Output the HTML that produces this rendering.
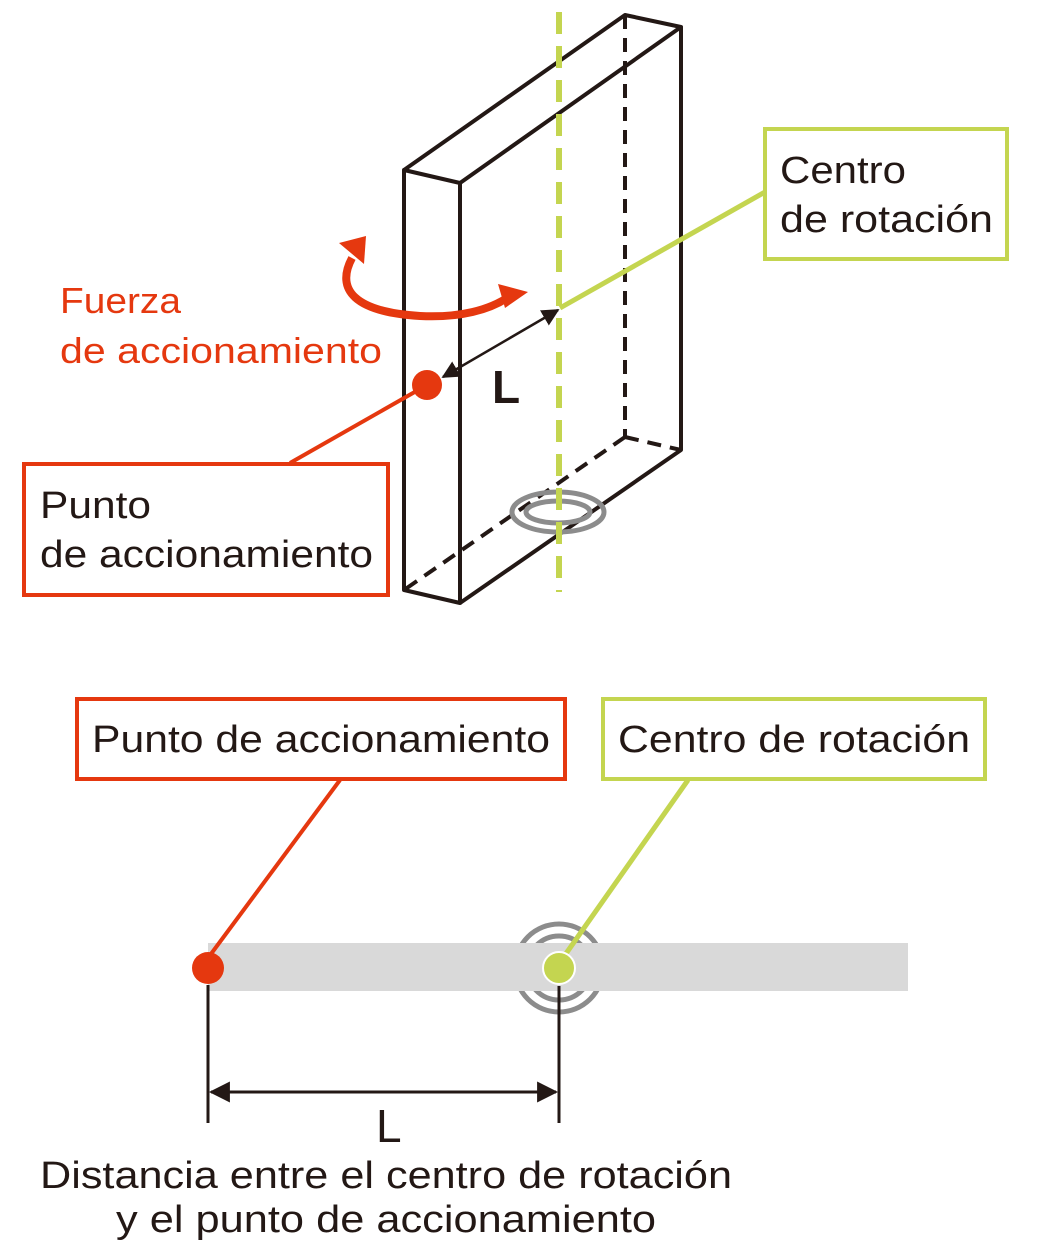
<!DOCTYPE html>
<html><head><meta charset="utf-8"><style>html,body{margin:0;padding:0;background:#fff}svg{display:block}</style></head><body>
<svg width="1060" height="1254" viewBox="0 0 1060 1254" xmlns="http://www.w3.org/2000/svg" font-family="'Liberation Sans', sans-serif">
<defs>
<marker id="ah" viewBox="0 0 10 10" refX="9" refY="5" markerWidth="7" markerHeight="7" orient="auto-start-reverse"><path d="M0,0 L10,5 L0,10 z" fill="#231815"/></marker>
</defs>
<g stroke="#231815" stroke-width="4" fill="none" stroke-dasharray="14,9">
<line x1="625" y1="15" x2="625" y2="437"/>
<line x1="625" y1="437" x2="681" y2="450"/>
<line x1="625" y1="437" x2="404" y2="590"/>
</g>
<g stroke="#231815" stroke-width="4" fill="none" stroke-linejoin="round">
<polygon points="404,170 460,183 460,603 404,590"/>
<polyline points="404,170 625,15 681,27 460,183"/>
<polyline points="681,27 681,450 460,603"/>
</g>
<ellipse cx="558" cy="512" rx="46" ry="20" stroke="#8c8c8c" stroke-width="5" fill="none"/>
<ellipse cx="558" cy="512" rx="32" ry="11" stroke="#8c8c8c" stroke-width="5" fill="none"/>
<line x1="559" y1="12" x2="559" y2="592" stroke="#c4d550" stroke-width="6" stroke-dasharray="22,12"/>
<line x1="560" y1="308" x2="765" y2="192" stroke="#c4d550" stroke-width="5"/>
<rect x="765" y="129" width="242" height="130" fill="#fff" stroke="#c4d550" stroke-width="4"/>
<text x="780" y="183" font-size="38" fill="#231815" textLength="126" lengthAdjust="spacingAndGlyphs">Centro</text>
<text x="780" y="232" font-size="38" fill="#231815" textLength="213" lengthAdjust="spacingAndGlyphs">de rotación</text>
<line x1="443" y1="377" x2="558" y2="310" stroke="#231815" stroke-width="2.5" marker-start="url(#ah)" marker-end="url(#ah)"/>
<text x="492" y="403" font-size="46" font-weight="bold" fill="#231815">L</text>
<path d="M352,258 C335,290 355,312 420,316 C460,318 490,310 510,296" stroke="#e5380f" stroke-width="8" fill="none"/>
<polygon points="339,243 366,236 364,264" fill="#e5380f"/>
<polygon points="498,284 528,292 505,308" fill="#e5380f"/>
<text x="60" y="313" font-size="36" fill="#e5380f" textLength="121" lengthAdjust="spacingAndGlyphs">Fuerza</text>
<text x="60" y="363" font-size="36" fill="#e5380f" textLength="322" lengthAdjust="spacingAndGlyphs">de accionamiento</text>
<line x1="427" y1="385" x2="290" y2="463" stroke="#e5380f" stroke-width="4"/>
<circle cx="427" cy="385" r="15" fill="#e5380f"/>
<rect x="24" y="464" width="364" height="131" fill="#fff" stroke="#e5380f" stroke-width="4"/>
<text x="40" y="518" font-size="38" fill="#231815" textLength="111" lengthAdjust="spacingAndGlyphs">Punto</text>
<text x="40" y="567" font-size="38" fill="#231815" textLength="333" lengthAdjust="spacingAndGlyphs">de accionamiento</text>

<circle cx="559" cy="968" r="44" stroke="#8c8c8c" stroke-width="5" fill="none"/>
<circle cx="559" cy="968" r="32" stroke="#8c8c8c" stroke-width="5" fill="none"/>
<rect x="208" y="943" width="700" height="48" fill="#d9d9d9"/>
<line x1="208" y1="958" x2="340" y2="780" stroke="#e5380f" stroke-width="4"/>
<line x1="565" y1="955" x2="688" y2="780" stroke="#c4d550" stroke-width="5"/>
<circle cx="208" cy="968" r="16" fill="#e5380f"/>
<circle cx="559" cy="968" r="16" fill="#c4d550" stroke="#fff" stroke-width="2"/>
<rect x="77" y="699" width="488" height="80" fill="#fff" stroke="#e5380f" stroke-width="4"/>
<text x="92" y="752" font-size="38" fill="#231815" textLength="458" lengthAdjust="spacingAndGlyphs">Punto de accionamiento</text>
<rect x="603" y="699" width="382" height="80" fill="#fff" stroke="#c4d550" stroke-width="4"/>
<text x="618" y="752" font-size="38" fill="#231815" textLength="352" lengthAdjust="spacingAndGlyphs">Centro de rotación</text>
<line x1="208" y1="985" x2="208" y2="1123" stroke="#231815" stroke-width="3"/>
<line x1="559" y1="986" x2="559" y2="1123" stroke="#231815" stroke-width="3"/>
<line x1="211" y1="1092" x2="556" y2="1092" stroke="#231815" stroke-width="3" marker-start="url(#ah)" marker-end="url(#ah)"/>
<text x="376" y="1142" font-size="46" fill="#231815">L</text>
<text x="386" y="1188" font-size="38" fill="#231815" text-anchor="middle" textLength="692" lengthAdjust="spacingAndGlyphs">Distancia entre el centro de rotación</text>
<text x="386" y="1232" font-size="38" fill="#231815" text-anchor="middle" textLength="540" lengthAdjust="spacingAndGlyphs">y el punto de accionamiento</text>
</svg>
</body></html>
